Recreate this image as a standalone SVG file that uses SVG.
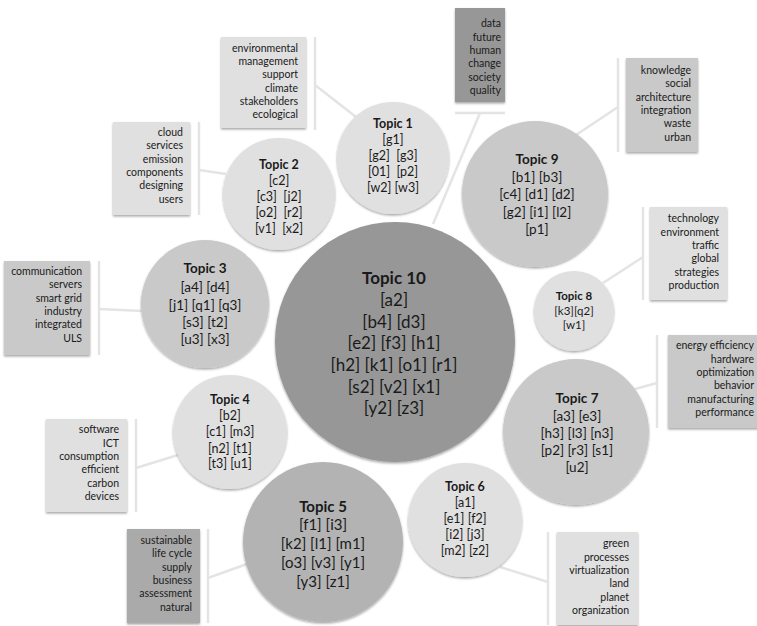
<svg xmlns="http://www.w3.org/2000/svg" width="757" height="626" viewBox="0 0 757 626">
<defs>
<filter id="sh" x="-20%" y="-20%" width="140%" height="140%">
<feDropShadow dx="0" dy="1.5" stdDeviation="1.2" flood-color="#000" flood-opacity="0.35"/>
</filter>
<style>
text{font-family:Lato,"Liberation Sans",sans-serif;fill:#1a1a1a}
.c text{text-anchor:middle}
.t{font-weight:bold}
.k text{text-anchor:end;font-size:10.5px}
.light{fill:#e0e0e0}
.mid{fill:#c9c9c9}
.dk{fill:#b3b3b3}
.dkk{fill:#aaaaaa}
.dark{fill:#979797}
.conn line{stroke:#e4e4e4;stroke-width:2.5}
circle,rect{filter:url(#sh)}
</style>
</defs>
<rect width="757" height="626" fill="#fff"/>
<g id="connectors" class="conn">
<line x1="315" y1="85" x2="356" y2="117"/>
<line x1="315" y1="37" x2="315" y2="130"/>
<line x1="480" y1="113" x2="433" y2="224"/>
<line x1="455" y1="113" x2="505" y2="113"/>
<line x1="618" y1="107" x2="576" y2="135"/>
<line x1="618" y1="58" x2="618" y2="152"/>
<line x1="643" y1="257" x2="603" y2="283"/>
<line x1="643" y1="207" x2="643" y2="300"/>
<line x1="657" y1="383" x2="635" y2="389"/>
<line x1="657" y1="335" x2="657" y2="428"/>
<line x1="548" y1="582" x2="500" y2="567"/>
<line x1="548" y1="532" x2="548" y2="625"/>
<line x1="208" y1="578" x2="247" y2="564"/>
<line x1="208" y1="529" x2="208" y2="623"/>
<line x1="136" y1="468" x2="178" y2="455"/>
<line x1="136" y1="419" x2="136" y2="512"/>
<line x1="99" y1="309" x2="143" y2="311"/>
<line x1="99" y1="261" x2="99" y2="355"/>
<line x1="199" y1="170" x2="226" y2="174"/>
<line x1="199" y1="122" x2="199" y2="215"/>
</g>
<g id="kw1" class="k">
<rect x="221" y="37" width="85" height="91" class="light"/>
<text x="298" y="52">environmental</text><text x="298" y="65">management</text><text x="298" y="78">support</text><text x="298" y="92">climate</text><text x="298" y="105">stakeholders</text><text x="298" y="118">ecological</text>
</g>
<g id="kw10" class="k">
<rect x="455" y="8" width="50" height="94" class="dark"/>
<text x="501" y="27">data</text><text x="501" y="41">future</text><text x="501" y="54">human</text><text x="501" y="67">change</text><text x="501" y="81">society</text><text x="501" y="94">quality</text>
</g>
<g id="kw9" class="k">
<rect x="626" y="58" width="72" height="94" class="mid"/>
<text x="691" y="74">knowledge</text><text x="691" y="87">social</text><text x="691" y="101">architecture</text><text x="691" y="114">integration</text><text x="691" y="127">waste</text><text x="691" y="141">urban</text>
</g>
<g id="kw8" class="k">
<rect x="650" y="207" width="77" height="93" class="light"/>
<text x="719" y="222">technology</text><text x="719" y="236">environment</text><text x="719" y="249">traffic</text><text x="719" y="262">global</text><text x="719" y="276">strategies</text><text x="719" y="289">production</text>
</g>
<g id="kw7" class="k">
<rect x="668" y="335" width="92" height="93" class="mid"/>
<text x="754" y="349">energy efficiency</text><text x="754" y="363">hardware</text><text x="754" y="376">optimization</text><text x="754" y="389">behavior</text><text x="754" y="403">manufacturing</text><text x="754" y="416">performance</text>
</g>
<g id="kw6" class="k">
<rect x="557" y="532" width="81" height="93" class="light"/>
<text x="629" y="547">green</text><text x="629" y="561">processes</text><text x="629" y="574">virtualization</text><text x="629" y="587">land</text><text x="629" y="601">planet</text><text x="629" y="614">organization</text>
</g>
<g id="kw5" class="k">
<rect x="127" y="529" width="73" height="94" class="dkk"/>
<text x="192" y="544">sustainable</text><text x="192" y="557">life cycle</text><text x="192" y="571">supply</text><text x="192" y="584">business</text><text x="192" y="597">assessment</text><text x="192" y="611">natural</text>
</g>
<g id="kw4" class="k">
<rect x="46" y="419" width="81" height="93" class="light"/>
<text x="119" y="433">software</text><text x="119" y="447">ICT</text><text x="119" y="460">consumption</text><text x="119" y="473">efficient</text><text x="119" y="487">carbon</text><text x="119" y="500">devices</text>
</g>
<g id="kw3" class="k">
<rect x="4" y="261" width="86" height="94" class="mid"/>
<text x="82" y="275">communication</text><text x="82" y="288">servers</text><text x="82" y="302">smart grid</text><text x="82" y="315">industry</text><text x="82" y="328">integrated</text><text x="82" y="342">ULS</text>
</g>
<g id="kw2" class="k">
<rect x="113" y="122" width="77" height="93" class="light"/>
<text x="183" y="136">cloud</text><text x="183" y="149">services</text><text x="183" y="163">emission</text><text x="183" y="176">components</text><text x="183" y="189">designing</text><text x="183" y="203">users</text>
</g>
<g id="topic1" class="c" font-size="12.5">
<circle cx="393" cy="158" r="56" class="light"/>
<text x="393" y="128" class="t">Topic 1</text><text x="393" y="144">[g1]</text><text x="393" y="160" xml:space="preserve">[g2]  [g3]</text><text x="393" y="176" xml:space="preserve">[01]  [p2]</text><text x="393" y="192">[w2] [w3]</text>
</g>
<g id="topic2" class="c" font-size="12.5">
<circle cx="279" cy="194" r="56" class="light"/>
<text x="279" y="169" class="t">Topic 2</text><text x="279" y="185">[c2]</text><text x="279" y="201" xml:space="preserve">[c3]  [j2]</text><text x="279" y="217" xml:space="preserve">[o2]  [r2]</text><text x="279" y="233" xml:space="preserve">[v1]  [x2]</text>
</g>
<g id="topic9" class="c" font-size="13.5">
<circle cx="535" cy="194" r="73" class="mid"/>
<text x="537" y="164" class="t">Topic 9</text><text x="537" y="182">[b1] [b3]</text><text x="537" y="199">[c4] [d1] [d2]</text><text x="537" y="217">[g2] [i1] [l2]</text><text x="537" y="234">[p1]</text>
</g>
<g id="topic3" class="c" font-size="13.5">
<circle cx="205" cy="304" r="64" class="mid"/>
<text x="205" y="273" class="t">Topic 3</text><text x="205" y="292">[a4] [d4]</text><text x="205" y="310">[j1] [q1] [q3]</text><text x="205" y="327">[s3] [t2]</text><text x="205" y="344">[u3] [x3]</text>
</g>
<g id="topic8" class="c" font-size="11.5">
<circle cx="574" cy="311" r="40" class="light"/>
<text x="574" y="300" class="t">Topic 8</text><text x="574" y="315">[k3][q2]</text><text x="574" y="329">[w1]</text>
</g>
<g id="topic10" class="c" font-size="17">
<circle cx="395" cy="342" r="120" class="dark"/>
<text x="394" y="284" class="t">Topic 10</text><text x="394" y="306">[a2]</text><text x="394" y="328">[b4] [d3]</text><text x="394" y="349">[e2] [f3] [h1]</text><text x="394" y="371">[h2] [k1] [o1] [r1]</text><text x="394" y="393">[s2] [v2] [x1]</text><text x="394" y="414">[y2] [z3]</text>
</g>
<g id="topic7" class="c" font-size="13.5">
<circle cx="576" cy="432" r="73" class="mid"/>
<text x="577" y="403" class="t">Topic 7</text><text x="577" y="421">[a3] [e3]</text><text x="577" y="438">[h3] [l3] [n3]</text><text x="577" y="455">[p2] [r3] [s1]</text><text x="577" y="472">[u2]</text>
</g>
<g id="topic4" class="c" font-size="12.5">
<circle cx="230" cy="432" r="57" class="light"/>
<text x="230" y="404" class="t">Topic 4</text><text x="230" y="420">[b2]</text><text x="230" y="436">[c1] [m3]</text><text x="230" y="453">[n2] [t1]</text><text x="230" y="468">[t3] [u1]</text>
</g>
<g id="topic6" class="c" font-size="12.5">
<circle cx="465" cy="520" r="57" class="light"/>
<text x="465" y="491" class="t">Topic 6</text><text x="465" y="507">[a1]</text><text x="465" y="523">[e1] [f2]</text><text x="465" y="539">[i2] [j3]</text><text x="465" y="555">[m2] [z2]</text>
</g>
<g id="topic5" class="c" font-size="15">
<circle cx="323" cy="542" r="80" class="dk"/>
<text x="323" y="512" class="t">Topic 5</text><text x="323" y="530">[f1] [i3]</text><text x="323" y="549">[k2] [l1] [m1]</text><text x="323" y="568">[o3] [v3] [y1]</text><text x="323" y="587">[y3] [z1]</text>
</g>
</svg>
